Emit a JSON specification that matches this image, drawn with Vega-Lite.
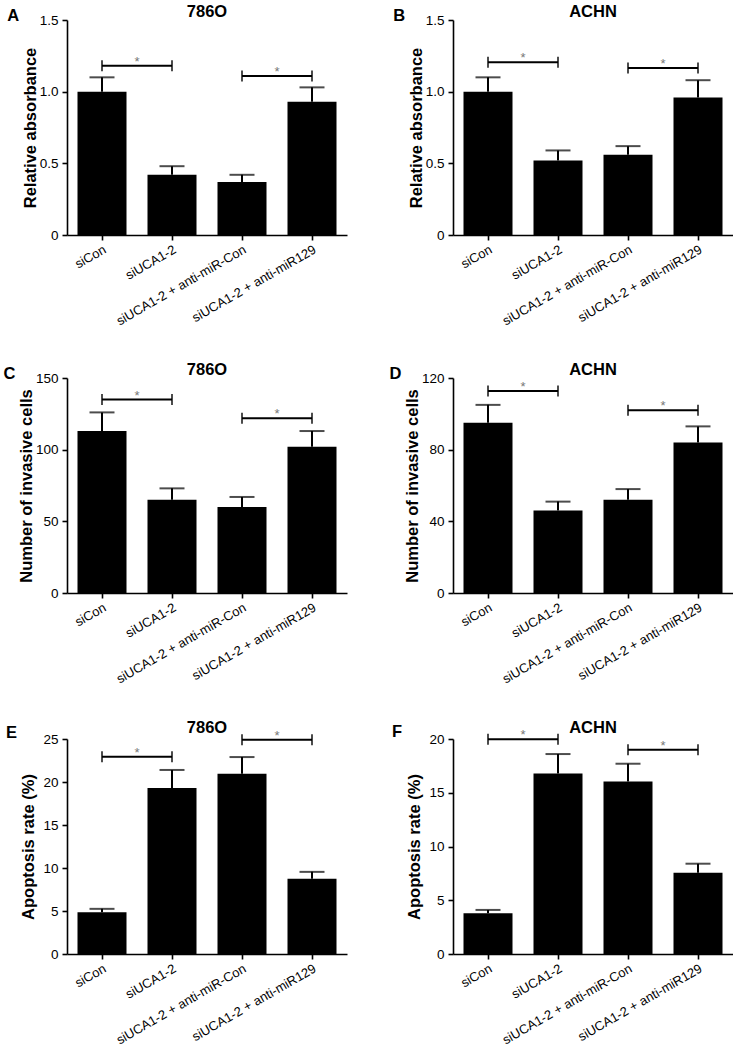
{
  "$schema": "https://vega.github.io/schema/vega-lite/v6.json",
  "padding": {"left": 3, "top": 3, "right": 0, "bottom": 0},
  "background": "white",
  "datasets": {
    "bars": [
      {"panel": "A", "group": "siCon", "mean": 1.0, "err": 1.1},
      {"panel": "A", "group": "siUCA1-2", "mean": 0.42, "err": 0.48},
      {"panel": "A", "group": "siUCA1-2 + anti-miR-Con", "mean": 0.37, "err": 0.42},
      {"panel": "A", "group": "siUCA1-2 + anti-miR129", "mean": 0.93, "err": 1.03},
      {"panel": "B", "group": "siCon", "mean": 1.0, "err": 1.1},
      {"panel": "B", "group": "siUCA1-2", "mean": 0.52, "err": 0.59},
      {"panel": "B", "group": "siUCA1-2 + anti-miR-Con", "mean": 0.56, "err": 0.62},
      {"panel": "B", "group": "siUCA1-2 + anti-miR129", "mean": 0.96, "err": 1.08},
      {"panel": "C", "group": "siCon", "mean": 113, "err": 126},
      {"panel": "C", "group": "siUCA1-2", "mean": 65, "err": 73},
      {"panel": "C", "group": "siUCA1-2 + anti-miR-Con", "mean": 60, "err": 67},
      {"panel": "C", "group": "siUCA1-2 + anti-miR129", "mean": 102, "err": 113},
      {"panel": "D", "group": "siCon", "mean": 95, "err": 105},
      {"panel": "D", "group": "siUCA1-2", "mean": 46, "err": 51},
      {"panel": "D", "group": "siUCA1-2 + anti-miR-Con", "mean": 52, "err": 58},
      {"panel": "D", "group": "siUCA1-2 + anti-miR129", "mean": 84, "err": 93},
      {"panel": "E", "group": "siCon", "mean": 4.85, "err": 5.25},
      {"panel": "E", "group": "siUCA1-2", "mean": 19.3, "err": 21.4},
      {"panel": "E", "group": "siUCA1-2 + anti-miR-Con", "mean": 20.95, "err": 22.9},
      {"panel": "E", "group": "siUCA1-2 + anti-miR129", "mean": 8.75, "err": 9.55},
      {"panel": "F", "group": "siCon", "mean": 3.8, "err": 4.1},
      {"panel": "F", "group": "siUCA1-2", "mean": 16.8, "err": 18.6},
      {"panel": "F", "group": "siUCA1-2 + anti-miR-Con", "mean": 16.05, "err": 17.7},
      {"panel": "F", "group": "siUCA1-2 + anti-miR129", "mean": 7.55, "err": 8.4}
    ],
    "brackets": [
      {"panel": "A", "from": "siCon", "to": "siUCA1-2", "y": 1.18},
      {"panel": "A", "from": "siUCA1-2 + anti-miR-Con", "to": "siUCA1-2 + anti-miR129", "y": 1.11},
      {"panel": "B", "from": "siCon", "to": "siUCA1-2", "y": 1.205},
      {"panel": "B", "from": "siUCA1-2 + anti-miR-Con", "to": "siUCA1-2 + anti-miR129", "y": 1.165},
      {"panel": "C", "from": "siCon", "to": "siUCA1-2", "y": 135},
      {"panel": "C", "from": "siUCA1-2 + anti-miR-Con", "to": "siUCA1-2 + anti-miR129", "y": 122},
      {"panel": "D", "from": "siCon", "to": "siUCA1-2", "y": 112.7},
      {"panel": "D", "from": "siUCA1-2 + anti-miR-Con", "to": "siUCA1-2 + anti-miR129", "y": 102},
      {"panel": "E", "from": "siCon", "to": "siUCA1-2", "y": 22.95},
      {"panel": "E", "from": "siUCA1-2 + anti-miR-Con", "to": "siUCA1-2 + anti-miR129", "y": 24.9},
      {"panel": "F", "from": "siCon", "to": "siUCA1-2", "y": 19.97},
      {"panel": "F", "from": "siUCA1-2 + anti-miR-Con", "to": "siUCA1-2 + anti-miR129", "y": 19.0}
    ]
  },
  "columns": 2,
  "spacing": {"row": 33, "column": 42},
  "concat": [
    {
      "title": {"text": "A", "anchor": "start", "frame": "bounds", "dx": -15, "offset": -21},
      "vconcat": [{
      "title": {"text": "786O", "anchor": "middle", "frame": "group", "offset": -7},
      "width": 280, "height": 215,
      "layer": [
        {"data": {"name": "bars"}, "transform": [{"filter": "datum.panel === 'A'"}], "mark": {"type": "bar", "color": "black"},
         "encoding": {
           "x": {"field": "group", "type": "nominal", "scale": {"domain": ["siCon", "siUCA1-2", "siUCA1-2 + anti-miR-Con", "siUCA1-2 + anti-miR129"], "paddingInner": 0.3, "paddingOuter": 0.15},
                 "axis": {"title": null, "labelAngle": -30, "labelAlign": "right", "labelBaseline": "top", "labelFontSize": 13, "labelPadding": 3, "labelLimit": 0}},
           "y": {"field": "mean", "type": "quantitative", "scale": {"domain": [0, 1.5], "nice": false},
                 "axis": {"title": "Relative absorbance", "values": [0, 0.5, 1, 1.5], "labelExpr": "datum.value == 0 ? '0' : format(datum.value, '.1f')", "labelPadding": 4, "titlePadding": 1}}
         }},
        {"data": {"name": "bars"}, "transform": [{"filter": "datum.panel === 'A'"}], "mark": {"type": "rule", "color": "black", "strokeWidth": 2},
         "encoding": {"x": {"field": "group", "type": "nominal"}, "y": {"field": "mean", "type": "quantitative"}, "y2": {"field": "err"}}},
        {"data": {"name": "bars"}, "transform": [{"filter": "datum.panel === 'A'"}], "mark": {"type": "tick", "orient": "horizontal", "size": 25, "thickness": 2, "color": "black"},
         "encoding": {"x": {"field": "group", "type": "nominal"}, "y": {"field": "err", "type": "quantitative"}}},
        {"data": {"name": "brackets"}, "transform": [{"filter": "datum.panel === 'A'"}], "mark": {"type": "rule", "color": "black", "strokeWidth": 2},
         "encoding": {"x": {"field": "from", "type": "nominal", "bandPosition": 0.5},
                      "x2": {"field": "to", "bandPosition": 0.5}, "y": {"field": "y", "type": "quantitative"}}},
        {"data": {"name": "brackets"}, "transform": [{"filter": "datum.panel === 'A'"}, {"fold": ["from", "to"], "as": ["end", "grp"]}], "mark": {"type": "tick", "orient": "vertical", "size": 11, "thickness": 2, "color": "black"},
         "encoding": {"x": {"field": "grp", "type": "nominal"}, "y": {"field": "y", "type": "quantitative"}}},
        {"data": {"name": "brackets"}, "transform": [{"filter": "datum.panel === 'A'"}], "mark": {"type": "text", "text": "*", "color": "#777777", "fontSize": 13, "baseline": "alphabetic"},
         "encoding": {"x": {"field": "from", "type": "nominal", "bandPosition": 1.214}, "y": {"field": "y", "type": "quantitative"}}}
      ]}]
    },
    {
      "title": {"text": "B", "anchor": "start", "frame": "bounds", "dx": -15, "offset": -21},
      "vconcat": [{
      "title": {"text": "ACHN", "anchor": "middle", "frame": "group", "offset": -7},
      "width": 280, "height": 215,
      "layer": [
        {"data": {"name": "bars"}, "transform": [{"filter": "datum.panel === 'B'"}], "mark": {"type": "bar", "color": "black"},
         "encoding": {
           "x": {"field": "group", "type": "nominal", "scale": {"domain": ["siCon", "siUCA1-2", "siUCA1-2 + anti-miR-Con", "siUCA1-2 + anti-miR129"], "paddingInner": 0.3, "paddingOuter": 0.15},
                 "axis": {"title": null, "labelAngle": -30, "labelAlign": "right", "labelBaseline": "top", "labelFontSize": 13, "labelPadding": 3, "labelLimit": 0}},
           "y": {"field": "mean", "type": "quantitative", "scale": {"domain": [0, 1.5], "nice": false},
                 "axis": {"title": "Relative absorbance", "values": [0, 0.5, 1, 1.5], "labelExpr": "datum.value == 0 ? '0' : format(datum.value, '.1f')", "labelPadding": 4, "titlePadding": 1}}
         }},
        {"data": {"name": "bars"}, "transform": [{"filter": "datum.panel === 'B'"}], "mark": {"type": "rule", "color": "black", "strokeWidth": 2},
         "encoding": {"x": {"field": "group", "type": "nominal"}, "y": {"field": "mean", "type": "quantitative"}, "y2": {"field": "err"}}},
        {"data": {"name": "bars"}, "transform": [{"filter": "datum.panel === 'B'"}], "mark": {"type": "tick", "orient": "horizontal", "size": 25, "thickness": 2, "color": "black"},
         "encoding": {"x": {"field": "group", "type": "nominal"}, "y": {"field": "err", "type": "quantitative"}}},
        {"data": {"name": "brackets"}, "transform": [{"filter": "datum.panel === 'B'"}], "mark": {"type": "rule", "color": "black", "strokeWidth": 2},
         "encoding": {"x": {"field": "from", "type": "nominal", "bandPosition": 0.5},
                      "x2": {"field": "to", "bandPosition": 0.5}, "y": {"field": "y", "type": "quantitative"}}},
        {"data": {"name": "brackets"}, "transform": [{"filter": "datum.panel === 'B'"}, {"fold": ["from", "to"], "as": ["end", "grp"]}], "mark": {"type": "tick", "orient": "vertical", "size": 11, "thickness": 2, "color": "black"},
         "encoding": {"x": {"field": "grp", "type": "nominal"}, "y": {"field": "y", "type": "quantitative"}}},
        {"data": {"name": "brackets"}, "transform": [{"filter": "datum.panel === 'B'"}], "mark": {"type": "text", "text": "*", "color": "#777777", "fontSize": 13, "baseline": "alphabetic"},
         "encoding": {"x": {"field": "from", "type": "nominal", "bandPosition": 1.214}, "y": {"field": "y", "type": "quantitative"}}}
      ]}]
    },
    {
      "title": {"text": "C", "anchor": "start", "frame": "bounds", "dx": -15, "offset": -21},
      "vconcat": [{
      "title": {"text": "786O", "anchor": "middle", "frame": "group", "offset": -7},
      "width": 280, "height": 215,
      "layer": [
        {"data": {"name": "bars"}, "transform": [{"filter": "datum.panel === 'C'"}], "mark": {"type": "bar", "color": "black"},
         "encoding": {
           "x": {"field": "group", "type": "nominal", "scale": {"domain": ["siCon", "siUCA1-2", "siUCA1-2 + anti-miR-Con", "siUCA1-2 + anti-miR129"], "paddingInner": 0.3, "paddingOuter": 0.15},
                 "axis": {"title": null, "labelAngle": -30, "labelAlign": "right", "labelBaseline": "top", "labelFontSize": 13, "labelPadding": 3, "labelLimit": 0}},
           "y": {"field": "mean", "type": "quantitative", "scale": {"domain": [0, 150], "nice": false},
                 "axis": {"title": "Number of invasive cells", "values": [0, 50, 100, 150], "labelPadding": 4, "titlePadding": 1}}
         }},
        {"data": {"name": "bars"}, "transform": [{"filter": "datum.panel === 'C'"}], "mark": {"type": "rule", "color": "black", "strokeWidth": 2},
         "encoding": {"x": {"field": "group", "type": "nominal"}, "y": {"field": "mean", "type": "quantitative"}, "y2": {"field": "err"}}},
        {"data": {"name": "bars"}, "transform": [{"filter": "datum.panel === 'C'"}], "mark": {"type": "tick", "orient": "horizontal", "size": 25, "thickness": 2, "color": "black"},
         "encoding": {"x": {"field": "group", "type": "nominal"}, "y": {"field": "err", "type": "quantitative"}}},
        {"data": {"name": "brackets"}, "transform": [{"filter": "datum.panel === 'C'"}], "mark": {"type": "rule", "color": "black", "strokeWidth": 2},
         "encoding": {"x": {"field": "from", "type": "nominal", "bandPosition": 0.5},
                      "x2": {"field": "to", "bandPosition": 0.5}, "y": {"field": "y", "type": "quantitative"}}},
        {"data": {"name": "brackets"}, "transform": [{"filter": "datum.panel === 'C'"}, {"fold": ["from", "to"], "as": ["end", "grp"]}], "mark": {"type": "tick", "orient": "vertical", "size": 11, "thickness": 2, "color": "black"},
         "encoding": {"x": {"field": "grp", "type": "nominal"}, "y": {"field": "y", "type": "quantitative"}}},
        {"data": {"name": "brackets"}, "transform": [{"filter": "datum.panel === 'C'"}], "mark": {"type": "text", "text": "*", "color": "#777777", "fontSize": 13, "baseline": "alphabetic"},
         "encoding": {"x": {"field": "from", "type": "nominal", "bandPosition": 1.214}, "y": {"field": "y", "type": "quantitative"}}}
      ]}]
    },
    {
      "title": {"text": "D", "anchor": "start", "frame": "bounds", "dx": -15, "offset": -21},
      "vconcat": [{
      "title": {"text": "ACHN", "anchor": "middle", "frame": "group", "offset": -7},
      "width": 280, "height": 215,
      "layer": [
        {"data": {"name": "bars"}, "transform": [{"filter": "datum.panel === 'D'"}], "mark": {"type": "bar", "color": "black"},
         "encoding": {
           "x": {"field": "group", "type": "nominal", "scale": {"domain": ["siCon", "siUCA1-2", "siUCA1-2 + anti-miR-Con", "siUCA1-2 + anti-miR129"], "paddingInner": 0.3, "paddingOuter": 0.15},
                 "axis": {"title": null, "labelAngle": -30, "labelAlign": "right", "labelBaseline": "top", "labelFontSize": 13, "labelPadding": 3, "labelLimit": 0}},
           "y": {"field": "mean", "type": "quantitative", "scale": {"domain": [0, 120], "nice": false},
                 "axis": {"title": "Number of invasive cells", "values": [0, 40, 80, 120], "labelPadding": 4, "titlePadding": 1}}
         }},
        {"data": {"name": "bars"}, "transform": [{"filter": "datum.panel === 'D'"}], "mark": {"type": "rule", "color": "black", "strokeWidth": 2},
         "encoding": {"x": {"field": "group", "type": "nominal"}, "y": {"field": "mean", "type": "quantitative"}, "y2": {"field": "err"}}},
        {"data": {"name": "bars"}, "transform": [{"filter": "datum.panel === 'D'"}], "mark": {"type": "tick", "orient": "horizontal", "size": 25, "thickness": 2, "color": "black"},
         "encoding": {"x": {"field": "group", "type": "nominal"}, "y": {"field": "err", "type": "quantitative"}}},
        {"data": {"name": "brackets"}, "transform": [{"filter": "datum.panel === 'D'"}], "mark": {"type": "rule", "color": "black", "strokeWidth": 2},
         "encoding": {"x": {"field": "from", "type": "nominal", "bandPosition": 0.5},
                      "x2": {"field": "to", "bandPosition": 0.5}, "y": {"field": "y", "type": "quantitative"}}},
        {"data": {"name": "brackets"}, "transform": [{"filter": "datum.panel === 'D'"}, {"fold": ["from", "to"], "as": ["end", "grp"]}], "mark": {"type": "tick", "orient": "vertical", "size": 11, "thickness": 2, "color": "black"},
         "encoding": {"x": {"field": "grp", "type": "nominal"}, "y": {"field": "y", "type": "quantitative"}}},
        {"data": {"name": "brackets"}, "transform": [{"filter": "datum.panel === 'D'"}], "mark": {"type": "text", "text": "*", "color": "#777777", "fontSize": 13, "baseline": "alphabetic"},
         "encoding": {"x": {"field": "from", "type": "nominal", "bandPosition": 1.214}, "y": {"field": "y", "type": "quantitative"}}}
      ]}]
    },
    {
      "title": {"text": "E", "anchor": "start", "frame": "bounds", "dx": -15, "offset": -21},
      "vconcat": [{
      "title": {"text": "786O", "anchor": "middle", "frame": "group", "offset": -7},
      "width": 280, "height": 215,
      "layer": [
        {"data": {"name": "bars"}, "transform": [{"filter": "datum.panel === 'E'"}], "mark": {"type": "bar", "color": "black"},
         "encoding": {
           "x": {"field": "group", "type": "nominal", "scale": {"domain": ["siCon", "siUCA1-2", "siUCA1-2 + anti-miR-Con", "siUCA1-2 + anti-miR129"], "paddingInner": 0.3, "paddingOuter": 0.15},
                 "axis": {"title": null, "labelAngle": -30, "labelAlign": "right", "labelBaseline": "top", "labelFontSize": 13, "labelPadding": 3, "labelLimit": 0}},
           "y": {"field": "mean", "type": "quantitative", "scale": {"domain": [0, 25], "nice": false},
                 "axis": {"title": "Apoptosis rate (%)", "values": [0, 5, 10, 15, 20, 25], "labelPadding": 4, "titlePadding": 6}}
         }},
        {"data": {"name": "bars"}, "transform": [{"filter": "datum.panel === 'E'"}], "mark": {"type": "rule", "color": "black", "strokeWidth": 2},
         "encoding": {"x": {"field": "group", "type": "nominal"}, "y": {"field": "mean", "type": "quantitative"}, "y2": {"field": "err"}}},
        {"data": {"name": "bars"}, "transform": [{"filter": "datum.panel === 'E'"}], "mark": {"type": "tick", "orient": "horizontal", "size": 25, "thickness": 2, "color": "black"},
         "encoding": {"x": {"field": "group", "type": "nominal"}, "y": {"field": "err", "type": "quantitative"}}},
        {"data": {"name": "brackets"}, "transform": [{"filter": "datum.panel === 'E'"}], "mark": {"type": "rule", "color": "black", "strokeWidth": 2},
         "encoding": {"x": {"field": "from", "type": "nominal", "bandPosition": 0.5},
                      "x2": {"field": "to", "bandPosition": 0.5}, "y": {"field": "y", "type": "quantitative"}}},
        {"data": {"name": "brackets"}, "transform": [{"filter": "datum.panel === 'E'"}, {"fold": ["from", "to"], "as": ["end", "grp"]}], "mark": {"type": "tick", "orient": "vertical", "size": 11, "thickness": 2, "color": "black"},
         "encoding": {"x": {"field": "grp", "type": "nominal"}, "y": {"field": "y", "type": "quantitative"}}},
        {"data": {"name": "brackets"}, "transform": [{"filter": "datum.panel === 'E'"}], "mark": {"type": "text", "text": "*", "color": "#777777", "fontSize": 13, "baseline": "alphabetic"},
         "encoding": {"x": {"field": "from", "type": "nominal", "bandPosition": 1.214}, "y": {"field": "y", "type": "quantitative"}}}
      ]}]
    },
    {
      "title": {"text": "F", "anchor": "start", "frame": "bounds", "dx": -15, "offset": -21},
      "vconcat": [{
      "title": {"text": "ACHN", "anchor": "middle", "frame": "group", "offset": -7},
      "width": 280, "height": 215,
      "layer": [
        {"data": {"name": "bars"}, "transform": [{"filter": "datum.panel === 'F'"}], "mark": {"type": "bar", "color": "black"},
         "encoding": {
           "x": {"field": "group", "type": "nominal", "scale": {"domain": ["siCon", "siUCA1-2", "siUCA1-2 + anti-miR-Con", "siUCA1-2 + anti-miR129"], "paddingInner": 0.3, "paddingOuter": 0.15},
                 "axis": {"title": null, "labelAngle": -30, "labelAlign": "right", "labelBaseline": "top", "labelFontSize": 13, "labelPadding": 3, "labelLimit": 0}},
           "y": {"field": "mean", "type": "quantitative", "scale": {"domain": [0, 20], "nice": false},
                 "axis": {"title": "Apoptosis rate (%)", "values": [0, 5, 10, 15, 20], "labelPadding": 4, "titlePadding": 6}}
         }},
        {"data": {"name": "bars"}, "transform": [{"filter": "datum.panel === 'F'"}], "mark": {"type": "rule", "color": "black", "strokeWidth": 2},
         "encoding": {"x": {"field": "group", "type": "nominal"}, "y": {"field": "mean", "type": "quantitative"}, "y2": {"field": "err"}}},
        {"data": {"name": "bars"}, "transform": [{"filter": "datum.panel === 'F'"}], "mark": {"type": "tick", "orient": "horizontal", "size": 25, "thickness": 2, "color": "black"},
         "encoding": {"x": {"field": "group", "type": "nominal"}, "y": {"field": "err", "type": "quantitative"}}},
        {"data": {"name": "brackets"}, "transform": [{"filter": "datum.panel === 'F'"}], "mark": {"type": "rule", "color": "black", "strokeWidth": 2},
         "encoding": {"x": {"field": "from", "type": "nominal", "bandPosition": 0.5},
                      "x2": {"field": "to", "bandPosition": 0.5}, "y": {"field": "y", "type": "quantitative"}}},
        {"data": {"name": "brackets"}, "transform": [{"filter": "datum.panel === 'F'"}, {"fold": ["from", "to"], "as": ["end", "grp"]}], "mark": {"type": "tick", "orient": "vertical", "size": 11, "thickness": 2, "color": "black"},
         "encoding": {"x": {"field": "grp", "type": "nominal"}, "y": {"field": "y", "type": "quantitative"}}},
        {"data": {"name": "brackets"}, "transform": [{"filter": "datum.panel === 'F'"}], "mark": {"type": "text", "text": "*", "color": "#777777", "fontSize": 13, "baseline": "alphabetic"},
         "encoding": {"x": {"field": "from", "type": "nominal", "bandPosition": 1.214}, "y": {"field": "y", "type": "quantitative"}}}
      ]}]
    }
  ],
  "config": {
    "font": "Liberation Sans",
    "view": {"stroke": null},
    "axis": {"domainColor": "black", "domainWidth": 1.6, "tickColor": "black", "tickWidth": 1.6, "tickSize": 5, "labelColor": "black", "labelFont": "Liberation Sans", "labelFontSize": 13.5, "titleColor": "black", "titleFont": "Liberation Sans", "titleFontSize": 16.5, "titleFontWeight": "bold", "grid": false},
    "title": {"fontSize": 16.5, "fontWeight": "bold", "color": "black", "font": "Liberation Sans"}
  }
}
